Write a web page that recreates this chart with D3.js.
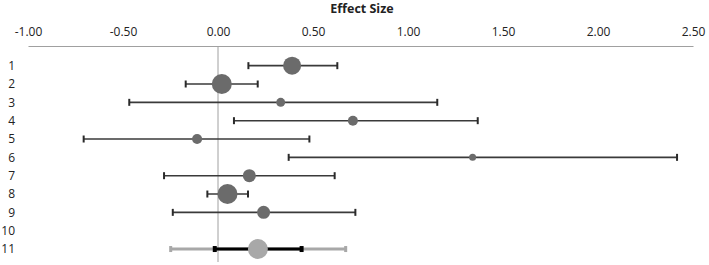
<!DOCTYPE html>
<html>
<head>
<meta charset="utf-8">
<script src="https://cdn.jsdelivr.net/npm/d3@7"></script>
<style>
  body { margin: 0; background: #fff; }
  svg text { font-family: "Open Sans", "Liberation Sans", sans-serif; fill: #222; }
</style>
</head>
<body>
<svg></svg>
<script>
const studies = ["1", "2", "3", "4", "5", "6", "7", "8", "9", "10", "11"];
const effect  = [0.39, 0.02, 0.33, 0.71, -0.11, 1.34, 0.165, 0.05, 0.24, null, 0.21];
const ciLow   = [0.16, -0.17, -0.467, 0.084, -0.707, 0.372, -0.284, -0.056, -0.238, null, -0.017];
const ciHigh  = [0.628, 0.209, 1.154, 1.367, 0.481, 2.416, 0.614, 0.158, 0.723, null, 0.44];
const weight  = [9, 10, 4.5, 5, 5, 3.5, 6.5, 10, 6.5, null, 10]; // marker radius
const predLow = -0.249, predHigh = 0.672; // prediction interval for summary row 11
const xTicks = [-1, -0.5, 0, 0.5, 1, 1.5, 2, 2.5];

const data = studies.map((s, i) => ({
    study: s, es: effect[i], lo: ciLow[i], hi: ciHigh[i], r: weight[i]
}));

const width = 709, height = 265;
const svg = d3.select("svg").attr("width", width).attr("height", height);

const x = d3.scaleLinear().domain([-1, 2.5]).range([28, 693]);
const y = d3.scaleBand().domain(studies).range([56.5, 258.2]);
const yc = s => y(s) + y.bandwidth() / 2;

// top axis, plain hyphen for negatives
const fmt = d3.formatLocale({ decimal: ".", thousands: ",", grouping: [3], currency: ["", ""], minus: "-" }).format(".2f");
const ax = svg.append("g")
    .attr("transform", "translate(0,46)")
    .call(d3.axisTop(x).tickValues(xTicks).tickSize(0).tickPadding(10).tickFormat(fmt));
ax.select(".domain").attr("stroke", "#a0a0a0").attr("stroke-width", 1.2);
ax.selectAll("text").style("font-size", "12px").attr("fill", "#222");

svg.append("text")
   .attr("x", 362).attr("y", 13)
   .attr("text-anchor", "middle")
   .style("font-size", "12.5px").style("font-weight", "bold")
   .text("Effect Size");

// zero line
svg.append("line")
   .attr("x1", x(0)).attr("x2", x(0))
   .attr("y1", 46).attr("y2", 262)
   .attr("stroke", "#a0a0a0").attr("stroke-width", 1);

// row labels
svg.selectAll(".rowlab")
   .data(studies)
   .enter().append("text")
   .attr("class", "rowlab")
   .attr("x", 15).attr("y", d => yc(d))
   .attr("dy", "0.35em")
   .attr("text-anchor", "end")
   .style("font-size", "12px")
   .text(d => d);

const studyRows = data.filter(d => d.es !== null && d.study !== "11");
const summary = data.find(d => d.study === "11");

// study CIs
const g = svg.append("g");
g.selectAll(".ci")
  .data(studyRows)
  .enter().append("line")
  .attr("x1", d => x(d.lo)).attr("x2", d => x(d.hi))
  .attr("y1", d => yc(d.study)).attr("y2", d => yc(d.study))
  .attr("stroke", "#3a3a3a").attr("stroke-width", 1.6);

["lo", "hi"].forEach(k => {
    g.selectAll(".cap-" + k)
      .data(studyRows)
      .enter().append("line")
      .attr("x1", d => x(d[k])).attr("x2", d => x(d[k]))
      .attr("y1", d => yc(d.study) - 3.5).attr("y2", d => yc(d.study) + 3.5)
      .attr("stroke", "#2a2a2a").attr("stroke-width", 2);
});

g.selectAll(".pt")
  .data(studyRows)
  .enter().append("circle")
  .attr("cx", d => x(d.es)).attr("cy", d => yc(d.study))
  .attr("r", d => d.r)
  .attr("fill", "#6b6b6b");

// summary row: prediction interval (grey) + CI (black)
const sy = yc(summary.study);
svg.append("line")
   .attr("x1", x(predLow)).attr("x2", x(predHigh))
   .attr("y1", sy).attr("y2", sy)
   .attr("stroke", "#a8a8a8").attr("stroke-width", 3);
[predLow, predHigh].forEach(v => {
    svg.append("rect")
       .attr("x", x(v) - 1.5).attr("y", sy - 3)
       .attr("width", 3).attr("height", 6)
       .attr("fill", "#a8a8a8");
});
svg.append("line")
   .attr("x1", x(summary.lo)).attr("x2", x(summary.hi))
   .attr("y1", sy).attr("y2", sy)
   .attr("stroke", "#000").attr("stroke-width", 3);
[summary.lo, summary.hi].forEach(v => {
    svg.append("rect")
       .attr("x", x(v) - 2).attr("y", sy - 3)
       .attr("width", 4).attr("height", 6)
       .attr("fill", "#000");
});
svg.append("circle")
   .attr("cx", x(summary.es)).attr("cy", sy)
   .attr("r", summary.r)
   .attr("fill", "#a8a8a8");
</script>
</body>
</html>
